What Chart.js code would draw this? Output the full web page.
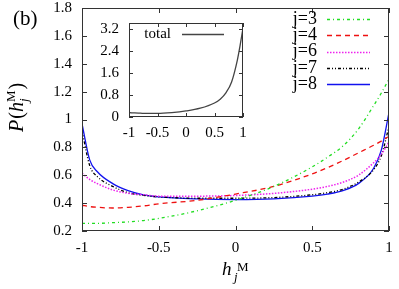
<!DOCTYPE html>
<html>
<head>
<meta charset="utf-8">
<script src="https://cdn.jsdelivr.net/npm/chart.js@4/dist/chart.umd.min.js"></script>
<style>
html, body { margin: 0; padding: 0; background: #fff; }
#wrap { position: relative; width: 399px; height: 289px; }
#mainChart { position: absolute; left: 0; top: 0; }
#insetChart { position: absolute; left: 95px; top: 15px; }
</style>
</head>
<body>
<div id="wrap">
    <canvas id="mainChart" width="399" height="289" style="width:399px;height:289px"></canvas>
    <canvas id="insetChart" width="155" height="130" style="width:155px;height:130px"></canvas>
</div>
<script>
// h_j^M sample points
const hValues = [-1, -0.95, -0.9, -0.8, -0.7, -0.6, -0.5, -0.25, 0, 0.25, 0.5, 0.6, 0.7, 0.8, 0.9, 0.95, 1];

const seriesLabels = ['j=3', 'j=4', 'j=6', 'j=7', 'j=8'];
const pJ3 = [0.255, 0.255, 0.255, 0.26, 0.265, 0.275, 0.29, 0.345, 0.42, 0.52, 0.66, 0.73, 0.81, 0.93, 1.10, 1.19, 1.29];
const pJ4 = [0.385, 0.375, 0.37, 0.365, 0.37, 0.38, 0.395, 0.42, 0.465, 0.52, 0.61, 0.655, 0.705, 0.76, 0.815, 0.845, 0.88];
const pJ6 = [0.615, 0.57, 0.54, 0.495, 0.47, 0.46, 0.45, 0.45, 0.455, 0.47, 0.50, 0.52, 0.55, 0.60, 0.69, 0.75, 0.84];
const pJ7 = [0.92, 0.67, 0.59, 0.52, 0.475, 0.455, 0.445, 0.435, 0.435, 0.44, 0.46, 0.475, 0.50, 0.55, 0.64, 0.74, 0.95];
const pJ8 = [0.97, 0.71, 0.625, 0.54, 0.49, 0.46, 0.445, 0.43, 0.425, 0.43, 0.45, 0.465, 0.49, 0.54, 0.65, 0.78, 1.05];

const totalLabel = 'total';
const pTotal = [0.16, 0.15, 0.15, 0.14, 0.13, 0.13, 0.13, 0.16, 0.22, 0.32, 0.51, 0.65, 0.88, 1.28, 2.07, 2.62, 3.24];

const mainXTicks = [-1, -0.5, 0, 0.5, 1];
const mainYTicks = [0.2, 0.4, 0.6, 0.8, 1, 1.2, 1.4, 1.6, 1.8];
const insetXTicks = [-1, -0.5, 0, 0.5, 1];
const insetYTicks = [0, 0.8, 1.6, 2.4, 3.2];

const serif = 'Liberation Serif, "Times New Roman", serif';
const toPts = arr => hValues.map((h, i) => ({ x: h, y: arr[i] }));
const fmt = v => String(+v.toFixed(2));

// border, inward ticks and the hand drawn key
const framePlugin = {
    id: 'frame',
    afterDatasetsDraw(chart, args, opts) {
        const { ctx, chartArea: a, scales } = chart;
        ctx.save();
        ctx.strokeStyle = '#333';
        ctx.lineWidth = 1;
        ctx.strokeRect(a.left + 0.5, a.top + 0.5, a.right - a.left - 1, a.bottom - a.top - 1);
        ctx.beginPath();
        scales.x.ticks.forEach(t => {
            const px = Math.round(scales.x.getPixelForValue(t.value)) + 0.5;
            ctx.moveTo(px, a.bottom); ctx.lineTo(px, a.bottom - opts.len);
            ctx.moveTo(px, a.top); ctx.lineTo(px, a.top + opts.len);
        });
        scales.y.ticks.forEach(t => {
            const py = Math.round(scales.y.getPixelForValue(t.value)) + 0.5;
            ctx.moveTo(a.left, py); ctx.lineTo(a.left + opts.len, py);
            ctx.moveTo(a.right, py); ctx.lineTo(a.right - opts.len, py);
        });
        ctx.stroke();

        // key
        ctx.font = opts.keyFont;
        ctx.fillStyle = '#000';
        ctx.textBaseline = 'middle';
        chart.data.datasets.forEach((ds, i) => {
            const y = opts.keyTop + i * opts.keyStep;
            ctx.textAlign = 'right';
            ctx.fillText(ds.label, opts.keyTextRight, y);
            ctx.save();
            ctx.strokeStyle = ds.borderColor;
            ctx.lineWidth = ds.borderWidth;
            ctx.setLineDash(ds.borderDash || []);
            ctx.beginPath();
            ctx.moveTo(opts.keyLine[0], Math.round(y) + 0.5);
            ctx.lineTo(opts.keyLine[1], Math.round(y) + 0.5);
            ctx.stroke();
            ctx.restore();
        });
        ctx.restore();
    }
};

// axis titles and panel tag on the main chart
const titlePlugin = {
    id: 'titles',
    afterDraw(chart, args, opts) {
        if (!opts.show) return;
        const ctx = chart.ctx;
        ctx.save();
        ctx.fillStyle = '#000';
        ctx.textBaseline = 'alphabetic';
        ctx.textAlign = 'left';

        ctx.font = '21px ' + serif;
        ctx.fillText('(b)', 13, 25);

        // x title: h_j^M
        ctx.font = 'italic 19px ' + serif;
        ctx.fillText('h', 222, 275);
        ctx.font = 'italic 13px ' + serif;
        ctx.fillText('j', 234, 281);
        ctx.font = '13px ' + serif;
        ctx.fillText('M', 237, 271);

        // y title: P(h_j^M)
        ctx.translate(23, 132);
        ctx.rotate(-Math.PI / 2);
        let x = 0;
        ctx.font = 'italic 20px ' + serif;
        ctx.fillText('P', x, 0); x += ctx.measureText('P').width + 1;
        ctx.font = '20px ' + serif;
        ctx.fillText('(', x, 0); x += ctx.measureText('(').width;
        ctx.font = 'italic 20px ' + serif;
        ctx.fillText('h', x, 0); x += ctx.measureText('h').width;
        ctx.font = 'italic 13px ' + serif;
        ctx.fillText('j', x, 5);
        ctx.font = '13px ' + serif;
        ctx.fillText('M', x, -8); x += ctx.measureText('M').width + 1;
        ctx.font = '20px ' + serif;
        ctx.fillText(')', x, 0);
        ctx.restore();
    }
};

const tickFont = { family: serif, size: 15 };

function xAxis(min, max, ticks, height, pad) {
    return {
        type: 'linear', min: min, max: max,
        afterBuildTicks: s => { s.ticks = ticks.map(v => ({ value: v })); },
        afterFit: s => { s.height = height; s.paddingLeft = 0; s.paddingRight = 0; },
        ticks: { font: tickFont, color: '#000', padding: pad, callback: fmt, maxRotation: 0, autoSkip: false },
        grid: { display: false, drawTicks: false },
        border: { display: false }
    };
}

function yAxis(min, max, ticks, width) {
    return {
        type: 'linear', min: min, max: max,
        afterBuildTicks: s => { s.ticks = ticks.map(v => ({ value: v })); },
        afterFit: s => { s.width = width; s.paddingTop = 0; s.paddingBottom = 0; },
        ticks: { font: tickFont, color: '#000', padding: 10, callback: fmt, autoSkip: false },
        grid: { display: false, drawTicks: false },
        border: { display: false }
    };
}

const ctx1 = document.getElementById('mainChart').getContext('2d');
new Chart(ctx1, {
    type: 'line',
    data: {
        datasets: [
            { label: seriesLabels[0], data: toPts(pJ3), borderColor: '#22dd22', borderWidth: 1.3, borderDash: [3, 3, 1, 3] },
            { label: seriesLabels[1], data: toPts(pJ4), borderColor: '#ee1111', borderWidth: 1.3, borderDash: [5, 4] },
            { label: seriesLabels[2], data: toPts(pJ6), borderColor: '#ee22ee', borderWidth: 1.5, borderDash: [1.5, 1.5] },
            { label: seriesLabels[3], data: toPts(pJ7), borderColor: '#000000', borderWidth: 1.3, borderDash: [3, 2, 1, 2, 1, 2] },
            { label: seriesLabels[4], data: toPts(pJ8), borderColor: '#1111ee', borderWidth: 1.3 }
        ]
    },
    options: {
        responsive: false,
        animation: false,
        layout: { padding: { left: 0, top: 8, right: 10, bottom: 0 } },
        elements: { point: { radius: 0 }, line: { cubicInterpolationMode: 'monotone' } },
        plugins: {
            legend: { display: false },
            tooltip: { enabled: false },
            frame: { len: 5, keyFont: '18px ' + serif, keyTop: 19, keyStep: 16.3, keyTextRight: 317, keyLine: [327, 370] },
            titles: { show: true }
        },
        scales: {
            x: xAxis(-1, 1, mainXTicks, 58, 8),
            y: yAxis(0.2, 1.8, mainYTicks, 82)
        }
    },
    plugins: [framePlugin, titlePlugin]
});

const ctx2 = document.getElementById('insetChart').getContext('2d');
new Chart(ctx2, {
    type: 'line',
    data: {
        datasets: [
            { label: totalLabel, data: toPts(pTotal), borderColor: '#444444', borderWidth: 1.3 }
        ]
    },
    options: {
        responsive: false,
        animation: false,
        layout: { padding: { left: 0, top: 8, right: 7, bottom: 0 } },
        elements: { point: { radius: 0 }, line: { cubicInterpolationMode: 'monotone' } },
        plugins: {
            legend: { display: false },
            tooltip: { enabled: false },
            frame: { len: 4, keyFont: '15px ' + serif, keyTop: 19, keyStep: 16, keyTextRight: 76, keyLine: [87, 129] },
            titles: { show: false }
        },
        scales: {
            x: xAxis(-1, 1, insetXTicks, 28, 7),
            y: yAxis(0, 3.43, insetYTicks, 34)
        }
    },
    plugins: [framePlugin]
});
</script>
</body>
</html>
